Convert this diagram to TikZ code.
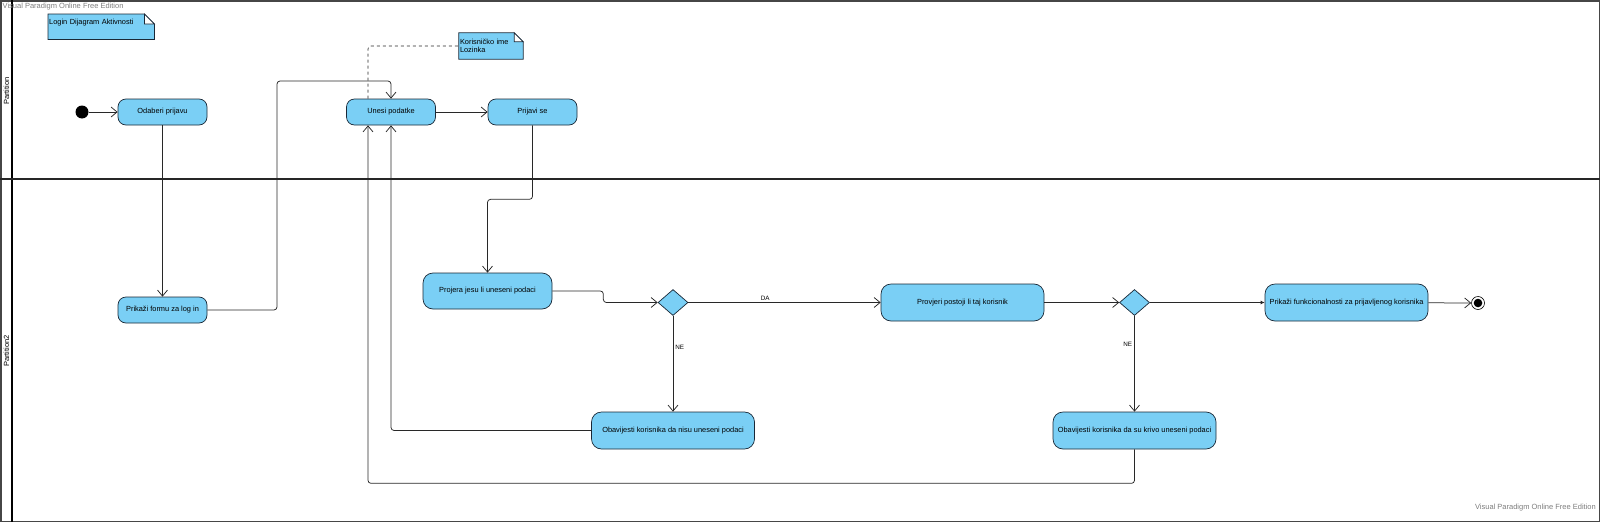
\documentclass[tikz,border=0pt]{standalone}
\usepackage{fontspec}
\setmainfont{Liberation Sans}
\usetikzlibrary{calc, positioning, shapes.geometric, arrows.meta, backgrounds}

\definecolor{actfill}{RGB}{122,207,245}
\definecolor{actline}{RGB}{25,40,55}
\definecolor{flowline}{RGB}{40,40,40}
\definecolor{markgray}{RGB}{125,125,125}
\definecolor{framegray}{RGB}{70,70,70}

\tikzset{
  activity/.style={draw=actline, fill=actfill, rounded corners=8pt, line width=0.7pt,
    minimum width=89pt, minimum height=26pt, inner xsep=1pt, font=\fontsize{7.4}{8.5}\selectfont},
  wideactivity/.style={activity, rounded corners=10pt, minimum width=163pt, minimum height=37pt},
  decision/.style={draw=actline, fill=actfill, diamond, line width=0.7pt,
    minimum width=30pt, minimum height=26pt, inner sep=0pt},
  startnode/.style={circle, fill=black, minimum size=13pt, inner sep=0pt},
  endnode/.style={circle, draw=black, fill=white, line width=0.6pt, minimum size=13pt, inner sep=0pt,
    path picture={\fill[black] (path picture bounding box.center) circle (4.3pt);}},
  notebox/.style={align=left, inner sep=1pt, font=\fontsize{7.4}{11}\selectfont},
  noteline/.style={draw=actline, fill=actfill, line width=0.7pt},
  flow/.style={draw=flowline, line width=0.75pt, rounded corners=3pt, -{Straight Barb[length=6pt,width=10pt]}},
  guard/.style={font=\fontsize{6.3}{7}\selectfont, inner sep=2pt},
  lanetext/.style={rotate=90, font=\fontsize{7.5}{9}\selectfont},
  watermark/.style={text=markgray, font=\fontsize{7.5}{9}\selectfont, inner sep=0pt}
}

\begin{document}
\begin{tikzpicture}[x=1pt, y=-1pt]
    \useasboundingbox (0,0) rectangle (1600,522);

    % swimlanes
    \draw[framegray, line width=1.5pt] (0.75,0.75) rectangle (1599.25,521.25);
    \draw[black, line width=1.2pt] (12,0) -- (12,522);
    \draw[black!85, line width=1.6pt] (0,179) -- (1600,179);
    \node[lanetext] (lane1) at (6.5,91) {Partition};
    \node[lanetext] (lane2) at (6.5,351) {Partition2};
    \node[watermark, anchor=west] (markA) at (2.5,7) {Visual Paradigm Online Free Edition};
    \node[watermark, anchor=east] (markB) at (1596,508) {Visual Paradigm Online Free Edition};

    % notes
    \node[notebox, anchor=north west, text width=104pt, minimum height=17pt] (title) at (48,14) {Login Dijagram Aktivnosti};
    \node[notebox, text width=62pt, minimum height=26pt] (inputnote) at (491,46) {Korisni\v{c}ko ime\\[-3pt]Lozinka};
    \begin{scope}[on background layer]
        \filldraw[noteline] (title.north west) -- ([xshift=-10pt]title.north east) -- ([yshift=-10pt]title.north east)
            -- ([yshift=-8pt]title.south east) -- ([yshift=-8pt]title.south west) -- cycle;
        \draw[actline, line width=0.7pt, fill=white] ([xshift=-10pt]title.north east) -- ([xshift=-10pt,yshift=-10pt]title.north east) -- ([yshift=-10pt]title.north east) -- cycle;
        \filldraw[noteline] (inputnote.north west) -- ([xshift=-9pt]inputnote.north east) -- ([yshift=-9pt]inputnote.north east)
            -- (inputnote.south east) -- (inputnote.south west) -- cycle;
        \draw[actline, line width=0.7pt, fill=white] ([xshift=-9pt]inputnote.north east) -- ([xshift=-9pt,yshift=-9pt]inputnote.north east) -- ([yshift=-9pt]inputnote.north east) -- cycle;
    \end{scope}

    % activities
    \node[startnode] (init) at (82,112) {};
    \node[activity] (odaberi) at (162.5,112) {Odaberi prijavu};
    \node[activity] (unesi) at (391,112) {Unesi podatke};
    \node[activity] (prijavi) at (532.5,112) {Prijavi se};
    \node[activity] (forma) at (162.5,310) {Prika\v{z}i formu za log in};
    \node[activity, rounded corners=10pt, minimum width=129pt, minimum height=36pt] (projera) at (487.5,291) {Projera jesu li uneseni podaci};
    \node[decision] (odl1) at (673,302.5) {};
    \node[wideactivity] (provjeri) at (962.5,302.5) {Provjeri postoji li taj korisnik};
    \node[decision] (odl2) at (1134.5,302.5) {};
    \node[wideactivity] (funkc) at (1346.5,302.5) {Prika\v{z}i funkcionalnosti za prijavljenog korisnika};
    \node[endnode] (kraj) at (1478,303) {};
    \node[wideactivity] (nisu) at (673,430.5) {Obavijesti korisnika da nisu uneseni podaci};
    \node[wideactivity] (krivo) at (1134.5,430.5) {Obavijesti korisnika da su krivo uneseni podaci};

    % flows
    \draw[flow] (init) -- (odaberi);
    \draw[flow] (odaberi) -- (forma);
    \draw[flow] (forma.east) -| (277,81) -| (unesi.north);
    \draw[flow] (unesi) -- (prijavi);
    \draw[flow] (prijavi.south) -- ++(0,74) -| (projera.north);
    \draw[flow] (projera.east) -- ++(51,0) |- (odl1);
    \draw[flow] (odl1) -- node[guard, pos=0.4, above] {DA} (provjeri);
    \draw[flow] (odl1) -- node[guard, pos=0.33, right] {NE} (nisu);
    \draw[flow] (nisu.west) -| (unesi.south);
    \draw[flow] (provjeri) -- (odl2);
    \draw[flow, -{Latex[length=4pt,width=4pt]}] (odl2) -- (funkc);
    \draw[flow] (odl2) -- node[guard, pos=0.3, left] {NE} (krivo);
    \draw[flow] (krivo.south) -- ++(0,34) -| ([xshift=-23pt]unesi.south);
    \draw[flow] (funkc) -- (kraj);
    \draw[flowline, line width=0.6pt, dashed, rounded corners=3pt] ([xshift=-23pt]unesi.north) |- (inputnote.west);
\end{tikzpicture}
\end{document}
